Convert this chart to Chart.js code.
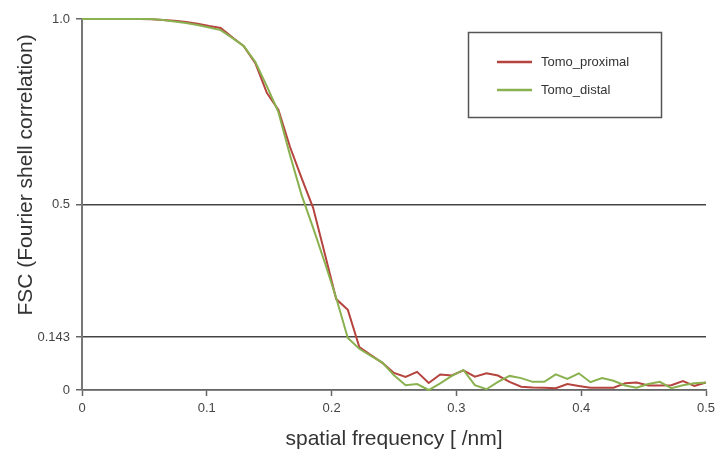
<!DOCTYPE html>
<html>
<head>
<meta charset="utf-8">
<script src="https://cdn.jsdelivr.net/npm/chart.js@4"></script>
<style>
  html, body { margin: 0; padding: 0; background: #fff; }
  #wrap { width: 717px; height: 457px; }
</style>
</head>
<body>
<div id="wrap"><canvas id="fsc" width="717" height="457"></canvas></div>
<script>
// spatial frequency of each shell [1/nm]
const freq = [0, 0.0093, 0.0185, 0.0278, 0.0370, 0.0463, 0.0556, 0.0648, 0.0741, 0.0833,
  0.0926, 0.1019, 0.1111, 0.1204, 0.1296, 0.1389, 0.1481, 0.1574, 0.1667, 0.1759,
  0.1852, 0.1944, 0.2037, 0.2130, 0.2222, 0.2315, 0.2407, 0.2500, 0.2593, 0.2685,
  0.2778, 0.2870, 0.2963, 0.3056, 0.3148, 0.3241, 0.3333, 0.3426, 0.3519, 0.3611,
  0.3704, 0.3796, 0.3889, 0.3981, 0.4074, 0.4167, 0.4259, 0.4352, 0.4444, 0.4537,
  0.4630, 0.4722, 0.4815, 0.4907, 0.5000];

const proximal = [1, 1, 1, 1, 1, 1, 0.999, 0.997, 0.995, 0.992,
  0.987, 0.981, 0.976, 0.951, 0.927, 0.881, 0.801, 0.755, 0.655, 0.572,
  0.491, 0.369, 0.245, 0.216, 0.116, 0.094, 0.073, 0.046, 0.035, 0.049,
  0.019, 0.042, 0.039, 0.053, 0.036, 0.045, 0.039, 0.022, 0.009, 0.007,
  0.006, 0.005, 0.016, 0.011, 0.006, 0.006, 0.006, 0.018, 0.020, 0.012,
  0.012, 0.013, 0.024, 0.011, 0.020];

const distal = [1, 1, 1, 1, 1, 1, 1, 0.997, 0.993, 0.989,
  0.984, 0.977, 0.970, 0.949, 0.927, 0.884, 0.819, 0.749, 0.633, 0.526,
  0.437, 0.345, 0.248, 0.140, 0.111, 0.092, 0.074, 0.040, 0.013, 0.016,
  0.000, 0.018, 0.038, 0.054, 0.013, 0.002, 0.022, 0.038, 0.032, 0.022,
  0.022, 0.042, 0.030, 0.045, 0.021, 0.032, 0.025, 0.012, 0.006, 0.016,
  0.022, 0.005, 0.013, 0.018, 0.020];

const yTicks = [0, 0.143, 0.5, 1.0];
const yTickText = ["0", "0.143", "0.5", "1.0"];
const refLines = [0, 0.143, 0.5];   // thresholds drawn across the plot

const font = '"Liberation Sans", Arial, sans-serif';

// legend in a box + rotated y title
const boxLegend = {
  id: "boxLegend",
  afterDraw(chart) {
    const ctx = chart.ctx;
    ctx.save();
    ctx.strokeStyle = "#555";
    ctx.lineWidth = 1.5;
    ctx.strokeRect(468.5, 32.5, 193, 85);
    ctx.font = "13px " + font;
    ctx.textBaseline = "middle";
    chart.data.datasets.forEach((ds, i) => {
      const y = 62 + i * 28;
      ctx.strokeStyle = ds.borderColor;
      ctx.lineWidth = 2.5;
      ctx.beginPath();
      ctx.moveTo(497, y);
      ctx.lineTo(532, y);
      ctx.stroke();
      ctx.fillStyle = "#333";
      ctx.fillText(ds.label, 541, y);
    });
    ctx.translate(26, 175);
    ctx.rotate(-Math.PI / 2);
    ctx.textAlign = "center";
    ctx.font = "21px " + font;
    ctx.fillStyle = "#333";
    ctx.fillText("FSC (Fourier shell correlation)", 0, 0);
    ctx.restore();
  }
};

new Chart(document.getElementById("fsc"), {
  type: "line",
  data: {
    datasets: [
      { label: "Tomo_proximal", data: freq.map((f, i) => ({ x: f, y: proximal[i] })),
        borderColor: "#b5443f", borderWidth: 2, pointRadius: 0, tension: 0, clip: 4, order: 1 },
      { label: "Tomo_distal", data: freq.map((f, i) => ({ x: f, y: distal[i] })),
        borderColor: "#8ab14f", borderWidth: 2, pointRadius: 0, tension: 0, clip: 4, order: 0 }
    ]
  },
  options: {
    responsive: false,
    animation: false,
    layout: { padding: { top: 19, right: 11, left: 0, bottom: 0 } },
    plugins: { legend: { display: false }, tooltip: { enabled: false } },
    scales: {
      x: {
        type: "linear", min: 0, max: 0.5,
        afterFit: s => { s.height = 67; s.paddingRight = 0; s.paddingLeft = 0; },
        ticks: { stepSize: 0.1, color: "#444", font: { family: font, size: 13 }, padding: 5 },
        grid: { drawOnChartArea: false, drawTicks: true, tickLength: 6, tickColor: "#666", tickWidth: 1.5 },
        border: { color: "#666", width: 1.5 },
        title: { display: true, text: "spatial frequency [ /nm]", color: "#333",
          font: { family: font, size: 21 }, padding: { top: 0, bottom: 5 } }
      },
      y: {
        min: 0, max: 1,
        afterFit: s => { s.width = 82; s.paddingTop = 0; s.paddingBottom = 0; },
        afterBuildTicks: s => { s.ticks = yTicks.map(v => ({ value: v })); },
        ticks: { color: "#444", font: { family: font, size: 13 }, padding: 6,
          callback: v => yTickText[yTicks.indexOf(v)] },
        grid: {
          color: c => refLines.includes(c.tick.value) ? "#444" : "rgba(0,0,0,0)",
          lineWidth: 1.5, tickLength: 6, tickColor: "#666", tickWidth: 1.5
        },
        border: { color: "#777", width: 2 }
      }
    }
  },
  plugins: [boxLegend]
});
</script>
</body>
</html>
